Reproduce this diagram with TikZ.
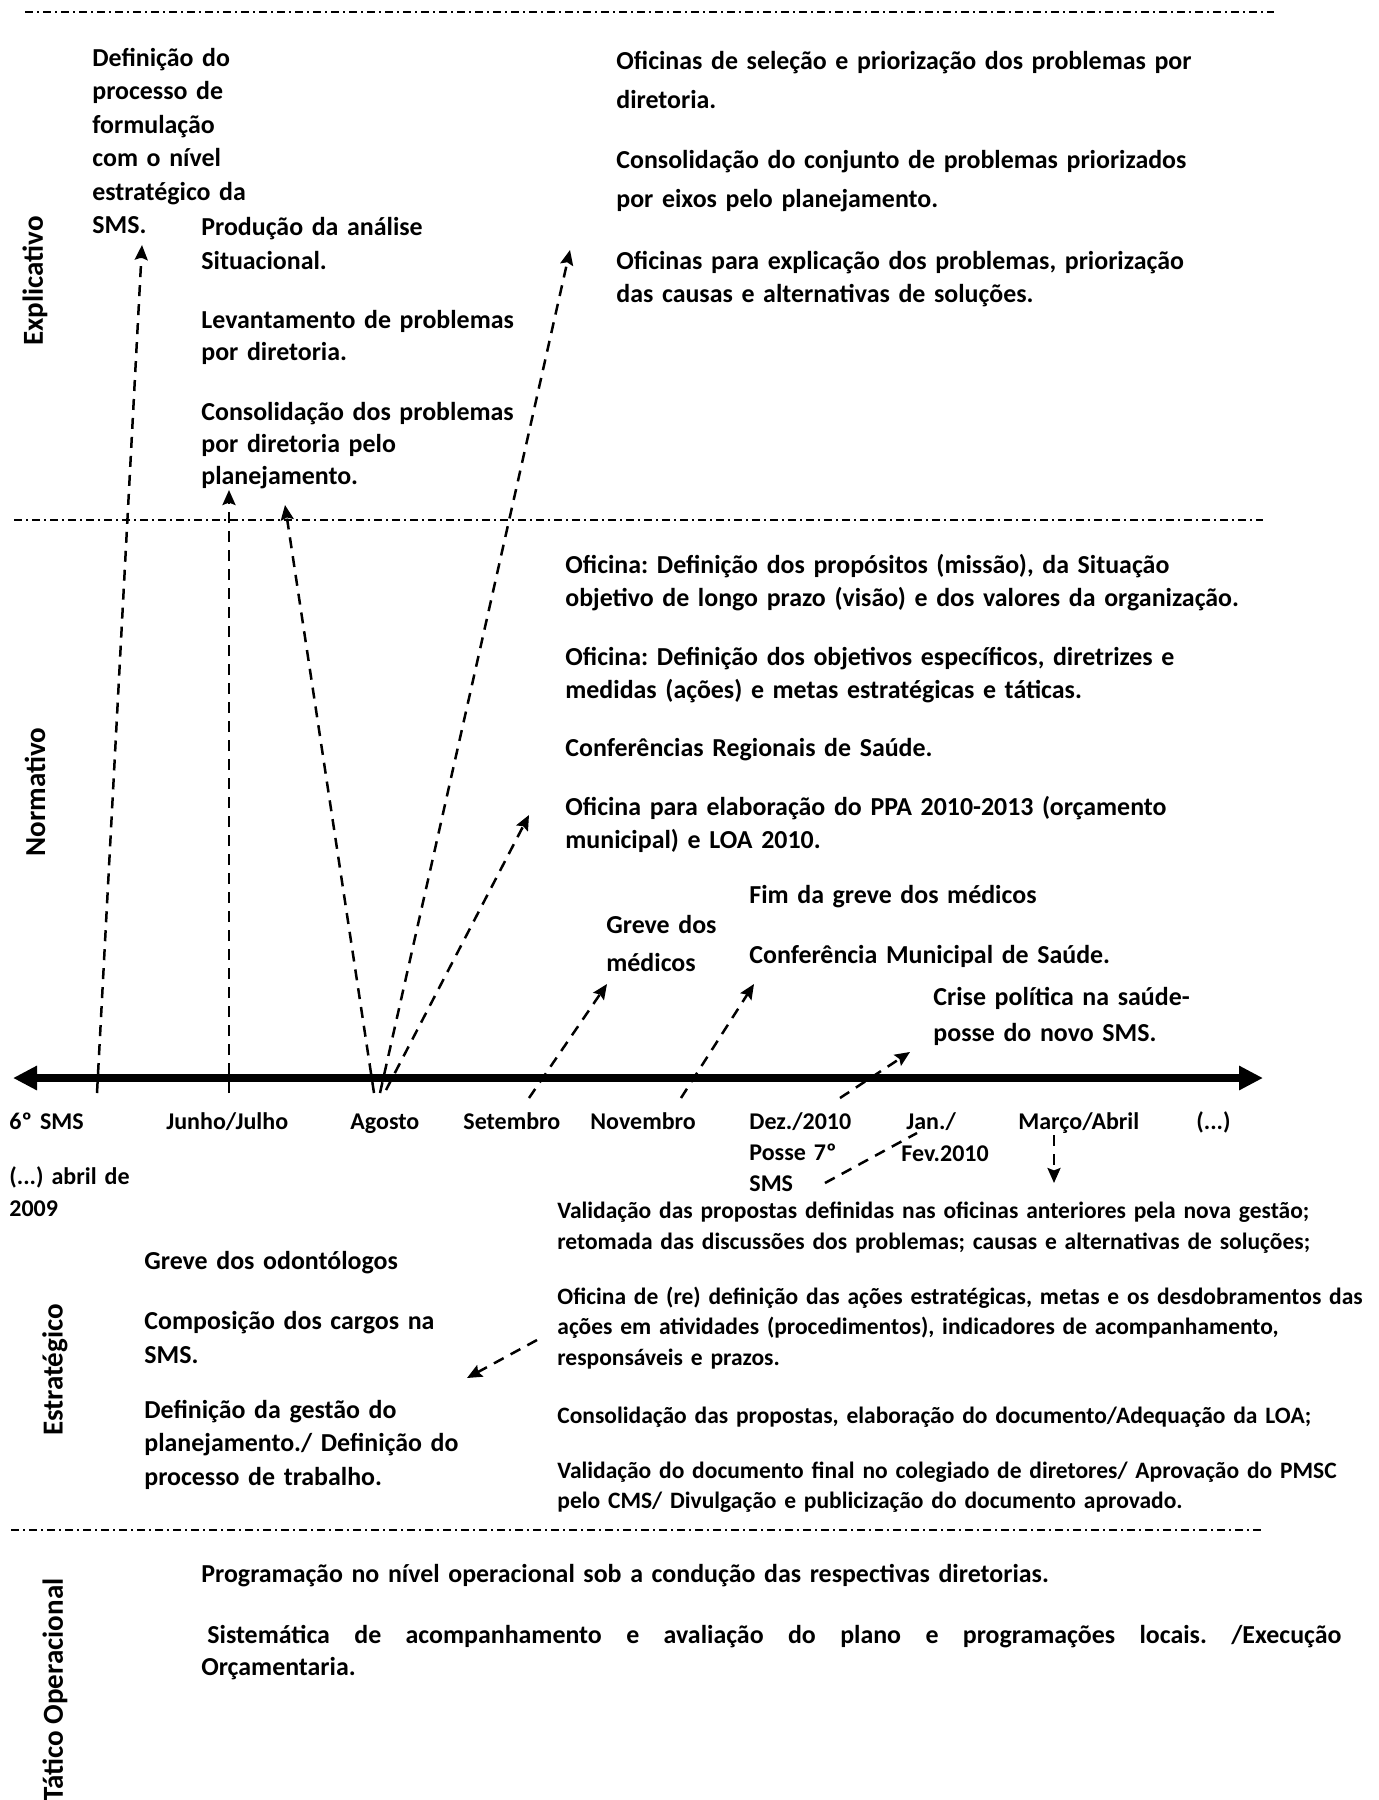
\documentclass[tikz,border=0pt]{standalone}
\usepackage{fontspec}
\setmainfont{Carlito}
\usetikzlibrary{arrows.meta}
\hyphenpenalty=10000
\exhyphenpenalty=10000
\frenchspacing

\tikzset{
  level line/.style={line width=0.75pt, dash pattern=on 4pt off 2pt on 1pt off 2pt},
  level label/.style={font=\bfseries\fontsize{14.5}{17}\selectfont, inner sep=0pt},
  time axis/.style={line width=4pt, {Triangle[length=12pt,width=11.5pt]}-{Triangle[length=12pt,width=11.5pt]}},
  dash arrow/.style={line width=1.25pt, dash pattern=on 5.5pt off 4pt, -{Stealth[length=7.5pt,width=6.5pt,inset=1.2pt]}},
  dash link/.style={line width=1.25pt, dash pattern=on 5.5pt off 4pt},
  body/.style={font=\bfseries\fontsize{12.95}{#1}\selectfont, anchor=base west, inner sep=0pt, text width=20cm, align=left},
  small/.style={font=\bfseries\fontsize{11.75}{#1}\selectfont, anchor=base west, inner sep=0pt, text width=20cm, align=left},
  month/.style={font=\bfseries\fontsize{12}{#1}\selectfont, anchor=base west, inner sep=0pt, text width=4cm, align=left}
}

\begin{document}
\begin{tikzpicture}[x=0.5pt, y=-0.5pt]
  \fill[white] (0,0) rectangle (1379,1800);
  \useasboundingbox (0,0) rectangle (1379,1800);

  % linhas que separam os niveis
  \foreach \y/\a/\b [count=\i] in {12/25/1274, 520/14/1263, 1530/11/1261} {
    \coordinate (la\i) at (\a,\y);
    \coordinate (lb\i) at (\b,\y);
    \draw[level line] (la\i) -- (lb\i);
  }

  % niveis
  \node[level label, rotate=90] (nexp) at (35,281) {Explicativo};
  \node[level label, rotate=90] (nnor) at (35,792) {Normativo};
  \node[level label, rotate=90] (nest) at (55,1370) {Estratégico};
  \node[level label, rotate=90] (ntat) at (55,1690) {Tático Operacional};

  % momento explicativo
  \node[body=16.75pt] (defin) at (92,66) {Definição do\\processo de\\formulação\\com o nível\\estratégico da\\SMS.};
  \node[body=17pt] (prod) at (201,235) {Produção da análise\\Situacional.};
  \node[body=16pt] (levant) at (201,328) {Levantamento de problemas\\por diretoria.};
  \node[body=16pt] (consol) at (201,420) {Consolidação dos problemas\\por diretoria pelo\\planejamento.};
  \node[body=19.5pt] (ofsel) at (616,69) {Oficinas de seleção e priorização dos problemas por\\diretoria.};
  \node[body=19.5pt] (consconj) at (616,168) {Consolidação do conjunto de problemas priorizados\\por eixos pelo planejamento.};
  \node[body=16.5pt] (ofexp) at (616,269) {Oficinas para explicação dos problemas, priorização\\das causas e alternativas de soluções.};

  % momento normativo
  \node[body=16.5pt] (ofprop) at (565,573) {Oficina: Definição dos propósitos (missão), da Situação\\objetivo de longo prazo (visão) e dos valores da organização.};
  \node[body=16.5pt] (ofobj) at (565,665) {Oficina: Definição dos objetivos específicos, diretrizes e\\medidas (ações) e metas estratégicas e táticas.};
  \node[body=16.5pt] (confreg) at (565,756) {Conferências Regionais de Saúde.};
  \node[body=16.5pt] (ofppa) at (565,815) {Oficina para elaboração do PPA 2010-2013 (orçamento\\municipal) e LOA 2010.};
  \node[body=16.5pt] (fimgreve) at (749,903) {Fim da greve dos médicos};
  \node[body=19pt] (grevemed) at (606,933) {Greve dos\\médicos};
  \node[body=16.5pt] (confmun) at (749,963) {Conferência Municipal de Saúde.};
  \node[body=18pt] (crise) at (933,1005) {Crise política na saúde-\\posse do novo SMS.};

  % eixo do tempo
  \coordinate (axL) at (13,1078);
  \coordinate (axR) at (1263,1078);
  \draw[time axis] (axL) -- (axR);
  \foreach \x/\t [count=\i] in {9/6º SMS, 166/{Junho/Julho}, 350/Agosto, 463/Setembro, 590/Novembro, 1018/{Março/Abril}}
    \node[month=15pt] (mes\i) at (\x,1129) {\t};
  \node[month=15pt] (etc) at (1196,1129) {(...)};
  \node[month=15.5pt] (dez) at (749,1129) {Dez./2010\\Posse 7º\\SMS};
  \node[month=15pt] (jan) at (906,1129) {Jan./};
  \node[month=15pt] (fev) at (901,1161) {Fev.2010};
  \node[month=16pt] (abr) at (9,1184) {(...) abril de\\2009};

  % setas tracejadas
  \foreach \a/\b/\c/\d [count=\i] in {97/1093/142/245, 229/1093/229/490, 374/1093/285/505,
      380/1093/570/250, 386/1090/529/815, 529/1098/607/984, 681/1098/754/984,
      840/1098/910/1052, 1054/1135/1054/1183, 537/1340/467/1378}
  {
    \coordinate (s\i) at (\a,\b);
    \coordinate (t\i) at (\c,\d);
    \draw[dash arrow] (s\i) -- (t\i);
  }
  \coordinate (posse) at (825,1183);
  \coordinate (janfev) at (917,1133);
  \draw[dash link] (posse) -- (janfev);

  % momento estrategico
  \node[body=17pt] (grevodon) at (144,1269) {Greve dos odontólogos};
  \node[body=17pt] (compos) at (144,1329) {Composição dos cargos na\\SMS.};
  \node[body=16.75pt] (defgest) at (144,1418) {Definição da gestão do\\planejamento./ Definição do\\processo de trabalho.};
  \node[small=15.5pt] (valprop) at (557,1218) {Validação das propostas definidas nas oficinas anteriores pela nova gestão;\\retomada das discussões dos problemas; causas e alternativas de soluções;};
  \node[small=15.25pt] (ofre) at (557,1304) {Oficina de (re) definição das ações estratégicas, metas e os desdobramentos das\\ações em atividades (procedimentos), indicadores de acompanhamento,\\responsáveis e prazos.};
  \node[small=15pt] (consprop) at (557,1423) {Consolidação das propostas, elaboração do documento/Adequação da LOA;};
  \node[small=15pt] (valdoc) at (557,1478) {Validação do documento final no colegiado de diretores/ Aprovação do PMSC\\pelo CMS/ Divulgação e publicização do documento aprovado.};

  % momento tatico operacional
  \node[body=16pt] (prog) at (201,1582) {Programação no nível operacional sob a condução das respectivas diretorias.};
  \node[body=16pt, text width=570pt, align=justify] (sistem) at (201,1643) {\hspace*{3pt}Sistemática de acompanhamento e avaliação do plano e programações locais. /Execução\linebreak Orçamentaria.};
\end{tikzpicture}
\end{document}
